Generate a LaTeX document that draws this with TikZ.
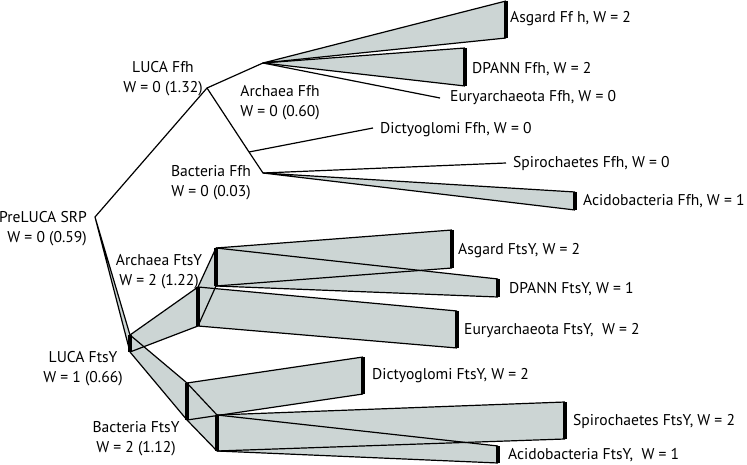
\documentclass[tikz,border=0pt]{standalone}
\usepackage{fontspec}
\setmainfont{PT Sans}
\definecolor{wedgegray}{RGB}{204,213,212}
\begin{document}
\begin{tikzpicture}[x=1pt,y=-1pt,
  wedge/.style={fill=wedgegray},
  edge/.style={draw=black,line width=1.2pt,line join=round},
  bar/.style={draw=black,line width=3.5pt},
  leaf/.style={anchor=mid west,inner sep=0pt,yshift=-2pt,font=\fontsize{15.6}{19}\selectfont},
  inlab/.style={inner sep=0pt,align=center,yshift=-5pt,font=\fontsize{15.6}{20}\selectfont}]
\useasboundingbox (0,0) rectangle (747,465);
% ---- Ffh side
\coordinate (pre) at (95,217);
\coordinate (lf) at (207,88);
\coordinate (af) at (263,63);
\coordinate (bf) at (249,152);
\coordinate (bfi) at (263,173);
\coordinate (asgfT) at (506,1);  \coordinate (asgfB) at (506,38);
\coordinate (dpfT) at (465,48);  \coordinate (dpfB) at (465,86);
\coordinate (euf) at (440,98);
\coordinate (dif) at (373,128);
\coordinate (spf) at (506,163);
\coordinate (acfT) at (575,192); \coordinate (acfB) at (575,210);
% ---- FtsY side
\coordinate (ltT) at (130,335);  \coordinate (ltB) at (130,352);
\coordinate (atT) at (198,287);  \coordinate (atB) at (198,326);
\coordinate (atiT) at (216,248); \coordinate (atiB) at (216,286);
\coordinate (btT) at (187,383);  \coordinate (btB) at (187,420);
\coordinate (btiT) at (217,415); \coordinate (btiB) at (217,451);
\coordinate (asgtT) at (452,230); \coordinate (asgtB) at (452,268);
\coordinate (dptT) at (498,279);  \coordinate (dptB) at (498,297);
\coordinate (eutT) at (457,311);  \coordinate (eutB) at (457,348);
\coordinate (ditT) at (363,357);  \coordinate (ditB) at (363,394);
\coordinate (sptT) at (565,402);  \coordinate (sptB) at (565,439);
\coordinate (actT) at (498,446);  \coordinate (actB) at (498,463);
% ---- fills
\foreach \a/\b in {pre/lt, af/asgf, af/dpf, bfi/acf}
  \fill[wedge] (\a) -- (\b T) -- (\b B) -- cycle;
\foreach \a/\b in {lt/at, lt/bt, at/ati, at/eut, ati/asgt, ati/dpt, bt/dit, bt/bti, bti/spt, bti/act}
  \fill[wedge] (\a T) -- (\b T) -- (\b B) -- (\a B) -- cycle;
% ---- outlines
\foreach \a/\b in {pre/lt, af/asgf, af/dpf, bfi/acf}
  \draw[edge] (\b T) -- (\a) -- (\b B);
\foreach \a/\b in {lt/at, lt/bt, at/ati, at/eut, ati/asgt, ati/dpt, bt/dit, bt/bti, bti/spt, bti/act}
  {\draw[edge] (\a T) -- (\b T); \draw[edge] (\a B) -- (\b B);}
\draw[edge] (pre) -- (lf) -- (af);
\draw[edge] (lf) -- (bf) -- (bfi);
\draw[edge] (af) -- (euf);
\draw[edge] (bf) -- (dif);
\draw[edge] (bfi) -- (spf);
% ---- bars
\foreach \n in {asgf, dpf, acf, lt, at, ati, bt, bti, asgt, dpt, eut, dit, spt, act}
  \draw[bar] (\n T) -- (\n B);
% ---- internal labels
\node[inlab] (lLUCAffh) at (163,74) {LUCA Ffh\\W = 0 (1.32)};
\node[inlab] (lArchffh) at (280,98) {Archaea Ffh\\W = 0 (0.60)};
\node[inlab] (lBactffh) at (211,178) {Bacteria Ffh\\W = 0 (0.03)};
\node[inlab,align=right,anchor=east] (lPre) at (87,224) {PreLUCA SRP\\W = 0 (0.59)};
\node[inlab] (lArchfts) at (159,267) {Archaea FtsY\\W = 2 (1.22)};
\node[inlab] (lLUCAfts) at (83,364) {LUCA FtsY\\W = 1 (0.66)};
\node[inlab] (lBactfts) at (136,434) {Bacteria FtsY\\W = 2 (1.12)};
% ---- leaf labels
\node[leaf] (l1) at (510,18) {Asgard Ff h, W = 2};
\node[leaf] (l2) at (472,69) {DPANN Ffh, W = 2};
\node[leaf] (l3) at (450,97) {Euryarchaeota Ffh, W = 0};
\node[leaf] (l4) at (380,129) {Dictyoglomi Ffh, W = 0};
\node[leaf] (l5) at (513,163) {Spirochaetes Ffh, W = 0};
\node[leaf] (l6) at (583,201) {Acidobacteria Ffh, W = 1};
\node[leaf] (l7) at (458,250) {Asgard FtsY, W = 2};
\node[leaf] (l8) at (509,289) {DPANN FtsY, W = 1};
\node[leaf] (l9) at (464,330) {Euryarchaeota FtsY,\ \ W = 2};
\node[leaf] (l10) at (372,375) {Dictyoglomi FtsY, W = 2};
\node[leaf] (l11) at (573,421) {Spirochaetes FtsY, W = 2};
\node[leaf] (l12) at (508,455) {Acidobacteria FtsY,\ \ W = 1};
\end{tikzpicture}
\end{document}
